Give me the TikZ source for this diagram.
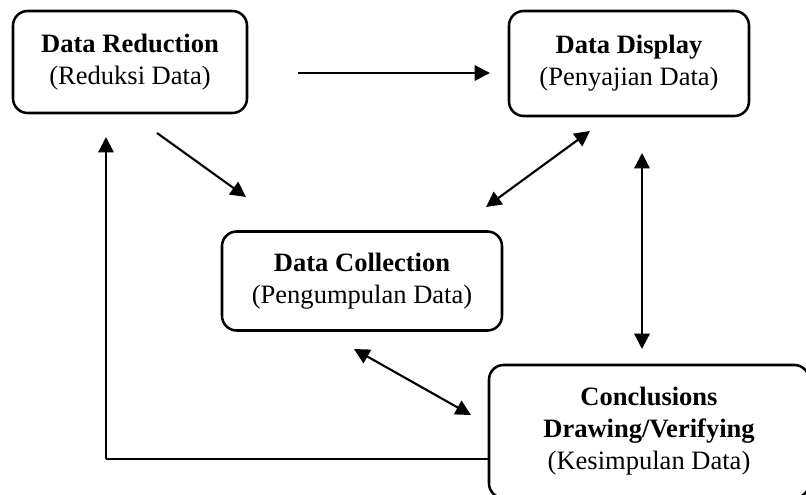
\documentclass[tikz,border=0pt]{standalone}
\usepackage{fontspec}
\setmainfont{Liberation Serif}
\usetikzlibrary{arrows.meta}
\begin{document}
\begin{tikzpicture}[x=0.75pt,y=-0.75pt,
  boxnode/.style={draw, line width=1.9pt, rounded corners=11pt, align=center,
    inner sep=0pt, font=\fontsize{19.9}{24}\selectfont},
  conn/.style={line width=1.6pt, -{Triangle[length=11.5pt,width=11.5pt]}},
  biconn/.style={line width=1.6pt, {Triangle[length=11.5pt,width=11.5pt]}-{Triangle[length=11.5pt,width=11.5pt]}}]
\useasboundingbox (0,0) rectangle (806,495);
\clip (0,0) rectangle (806,495);
\node[boxnode, minimum width=175.5pt, minimum height=76.5pt] (red) at (130,62)
  {\textbf{Data Reduction}\\(Reduksi Data)};
\node[boxnode, minimum width=180pt, minimum height=78.75pt] (disp) at (629,63.5)
  {\textbf{Data Display}\\(Penyajian Data)};
\node[boxnode, minimum width=210pt, minimum height=74.25pt] (coll) at (362,281)
  {\textbf{Data Collection}\\(Pengumpulan Data)};
\node[boxnode, minimum width=240pt, minimum height=99.75pt] (conc) at (649,431.5)
  {\textbf{Conclusions}\\\textbf{Drawing/Verifying}\\(Kesimpulan Data)};
\coordinate (a1) at (298,73);
\coordinate (a2) at (490,73);
\coordinate (b1) at (157,133);
\coordinate (b2) at (246,197);
\coordinate (c1) at (590,131);
\coordinate (c2) at (486,207);
\coordinate (d1) at (642,153);
\coordinate (d2) at (642,349);
\coordinate (e1) at (354,349);
\coordinate (e2) at (471,415);
\coordinate (fbY) at (0,459);
\coordinate (fbC) at (106,459);
\coordinate (fbT) at (106,137);
\draw[conn] (a1) -- (a2);
\draw[conn] (b1) -- (b2);
\draw[biconn] (c1) -- (c2);
\draw[biconn] (d1) -- (d2);
\draw[biconn] (e1) -- (e2);
\draw[line width=0.8pt] (conc.west |- fbY) -- (fbC);
\draw[conn, line width=1.5pt] (fbC) -- (fbT);
\end{tikzpicture}
\end{document}
